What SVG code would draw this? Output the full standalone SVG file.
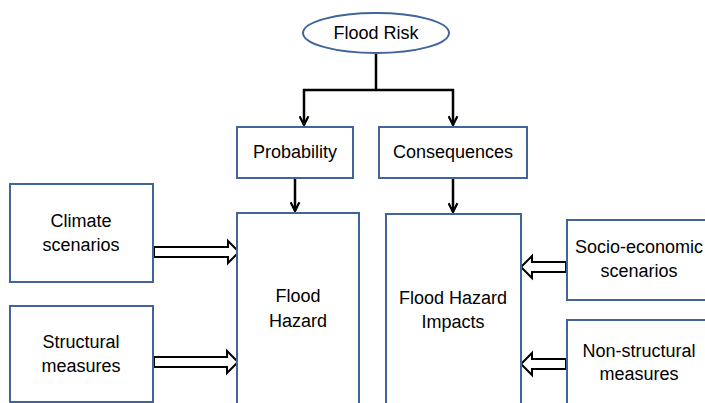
<svg xmlns="http://www.w3.org/2000/svg" width="705" height="403" viewBox="0 0 705 403">
<style>
.box{fill:#fff;stroke:#41659a;stroke-width:2}
.t{font-family:"Liberation Sans",Arial,sans-serif;font-size:18px;fill:#000;text-anchor:middle}
.ln{fill:none;stroke:#000;stroke-width:2.5}
.blk{fill:#fff;stroke:#000;stroke-width:2;stroke-linejoin:miter}
</style>
<defs>
<marker id="ah" viewBox="0 0 10 10" refX="9" refY="5" markerWidth="4.4" markerHeight="4.4" orient="auto" markerUnits="strokeWidth">
<path d="M1,1 L9,5 L1,9" fill="none" stroke="#000" stroke-width="2"/>
</marker>
</defs>
<rect width="705" height="403" fill="#fff"/>
<g id="connectors">
<path class="ln" d="M376,53 V90"/>
<path class="ln" d="M303,90 H454"/>
<path class="ln" d="M304,89 V125" marker-end="url(#ah)"/>
<path class="ln" d="M453,89 V125" marker-end="url(#ah)"/>
<path class="ln" d="M295,178 V211" marker-end="url(#ah)"/>
<path class="ln" d="M453,178 V212" marker-end="url(#ah)"/>
<polygon class="blk" points="154,247 228,247 228,241 239,252 228,263 228,257 154,257"/>
<polygon class="blk" points="154,357 227,357 227,351 238,362 227,373 227,367 154,367"/>
<polygon class="blk" points="566,262 532,262 532,256 521,267 532,278 532,272 566,272"/>
<polygon class="blk" points="566,359 532,359 532,353 521,364 532,375 532,369 566,369"/>
</g>
<g id="flood-risk">
<ellipse class="box" cx="376" cy="33" rx="73" ry="20"/>
<text class="t" x="376" y="39">Flood Risk</text>
</g>
<g id="probability">
<rect class="box" x="237" y="127" width="116" height="51"/>
<text class="t" x="295" y="158">Probability</text>
</g>
<g id="consequences">
<rect class="box" x="379" y="127" width="148" height="51"/>
<text class="t" x="453" y="158">Consequences</text>
</g>
<g id="climate">
<rect class="box" x="10" y="184" width="143" height="98"/>
<text class="t" x="81" y="227">Climate</text>
<text class="t" x="81" y="251">scenarios</text>
</g>
<g id="structural">
<rect class="box" x="10" y="306" width="143" height="96"/>
<text class="t" x="81" y="348">Structural</text>
<text class="t" x="81" y="372">measures</text>
</g>
<g id="flood-hazard">
<rect class="box" x="237" y="213" width="122" height="200"/>
<text class="t" x="298" y="302">Flood</text>
<text class="t" x="298" y="327">Hazard</text>
</g>
<g id="flood-hazard-impacts">
<rect class="box" x="386" y="214" width="135" height="200"/>
<text class="t" x="453" y="304">Flood Hazard</text>
<text class="t" x="453" y="328">Impacts</text>
</g>
<g id="socio-economic">
<rect class="box" x="567" y="220" width="150" height="80"/>
<text class="t" x="639" y="253">Socio-economic</text>
<text class="t" x="639" y="277">scenarios</text>
</g>
<g id="non-structural">
<rect class="box" x="567" y="320" width="150" height="100"/>
<text class="t" x="639" y="357">Non-structural</text>
<text class="t" x="639" y="380">measures</text>
</g>
</svg>
